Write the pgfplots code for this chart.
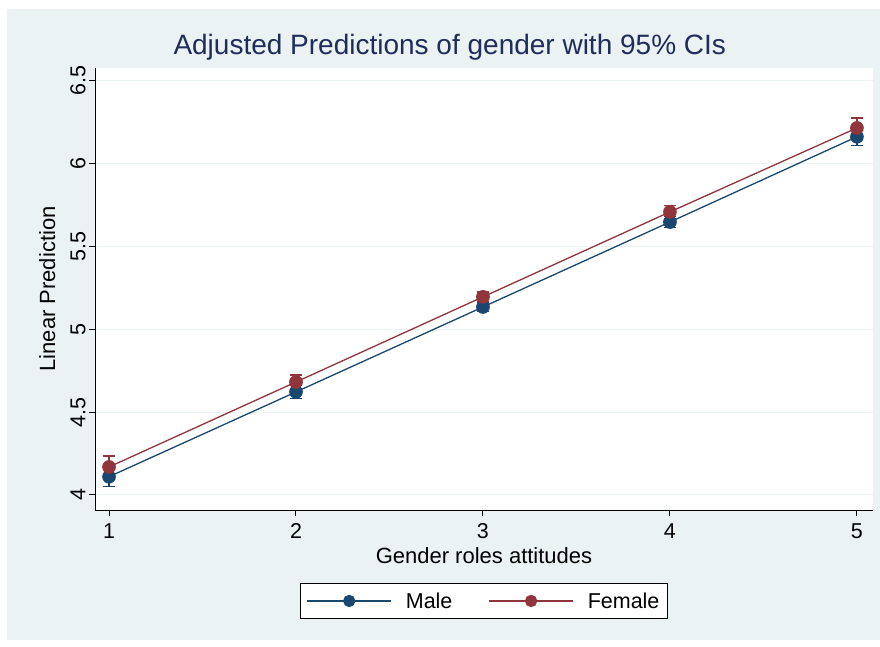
\documentclass[border=0pt]{standalone}
\usepackage{pgfplots}
\pgfplotsset{compat=1.18}
\usepackage{fontspec}
\setmainfont{Liberation Sans}
\definecolor{stbg}{HTML}{EAF2F3}
\definecolor{stnavy}{HTML}{1A476F}
\definecolor{stmaroon}{HTML}{90353B}
\definecolor{sttitle}{HTML}{1E2D5A}
\begin{document}
\begin{tikzpicture}[x=1pt,y=1pt]
\useasboundingbox (0,0) rectangle (880,646);
\fill[white] (0,0) rectangle (880,646);
\fill[stbg] (7,6) rectangle (880,637);
\begin{axis}[
  at={(95pt,136pt)}, anchor=south west,
  width=778pt, height=442pt, scale only axis,
  xmin=0.925, xmax=5.086, ymin=3.909, ymax=6.578,
  axis background/.style={fill=white},
  axis x line*=bottom, axis y line*=left,
  axis line style={black, line width=1pt, -},
  xtick={1,2,3,4,5}, ytick={4,4.5,5,5.5,6,6.5},
  yticklabels={4,4.5,5,5.5,6,6.5},
  tick align=outside, major tick length=6pt,
  tick style={black, line width=1pt},
  ymajorgrids, grid style={stbg, line width=1pt},
  /pgf/number format/assume math mode=true,
  ticklabel style={font=\fontsize{21.5}{25}\selectfont},
  yticklabel style={rotate=90, anchor=south, xshift=0pt},
  xticklabel style={yshift=-4pt},
  xlabel={Gender roles attitudes},
  ylabel={Linear Prediction},
  label style={font=\fontsize{22}{26}\selectfont},
  xlabel style={yshift=-2pt},
  ylabel style={yshift=8pt},
  title={Adjusted Predictions of gender with 95\% CIs},
  title style={font=\fontsize{28}{33}\selectfont, text=sttitle, at={(0.456,1)}, yshift=-2pt},
  clip=false,
  legend style={at={(0.5,-0.165)}, anchor=north, legend columns=2,
    draw=black, line width=1pt, fill=white,
    font=\fontsize{21.5}{25}\selectfont,
    /tikz/every odd column/.append style={column sep=12pt},
    /tikz/every even column/.append style={column sep=34pt},
    inner xsep=6pt, inner ysep=7pt},
  legend image code/.code={
    \draw[#1, mark=none, line width=1.3pt] (0pt,0pt) -- (84pt,0pt);
    \fill[#1] (42pt,0pt) circle (5.5pt);
  },
]
\addplot[stnavy, line width=1.3pt, mark=*, mark size=6.2pt,
  mark options={fill=stnavy, draw=stnavy},
  error bars/.cd, y dir=both, y explicit,
  error bar style={stnavy, line width=1.3pt},
  error mark options={rotate=90, mark size=6pt, line width=1.3pt, stnavy}]
  coordinates {
  (1,4.110) +- (0,0.060)
  (2,4.622) +- (0,0.040)
  (3,5.135) +- (0,0.027)
  (4,5.648) +- (0,0.035)
  (5,6.163) +- (0,0.054)
  };
\addlegendentry{Male}
\addplot[stmaroon, line width=1.3pt, mark=*, mark size=6.2pt,
  mark options={fill=stmaroon, draw=stmaroon},
  error bars/.cd, y dir=both, y explicit,
  error bar style={stmaroon, line width=1.3pt},
  error mark options={rotate=90, mark size=6pt, line width=1.3pt, stmaroon}]
  coordinates {
  (1,4.169) +- (0,0.066)
  (2,4.682) +- (0,0.043)
  (3,5.196) +- (0,0.029)
  (4,5.709) +- (0,0.038)
  (5,6.216) +- (0,0.060)
  };
\addlegendentry{Female}
\end{axis}
\end{tikzpicture}
\end{document}
